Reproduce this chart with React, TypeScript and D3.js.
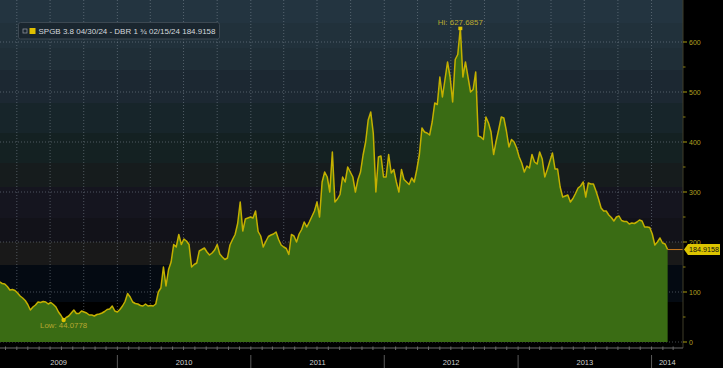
import React from 'react';
import * as d3 from 'd3';

// weekly closes (Fridays) starting 13 Feb 2009, spread in bp
const startDate = new Date(2009, 1, 13);
const spread = [
  120, 117, 116, 111, 104, 105, 103, 98, 92, 88,
  83, 75, 64, 70, 74, 80, 79, 81, 80, 76,
  79, 75, 70, 60, 53, 44.0778, 49, 52, 58, 64,
  57, 57, 62, 60, 58, 54, 54, 52, 55, 56,
  58, 61, 65, 66, 72, 62, 60, 65, 72, 81,
  97, 90, 80, 77, 76, 73, 72, 76, 72, 73,
  72, 76, 100, 108, 150, 112, 145, 160, 195, 190,
  215, 195, 206, 202, 195, 150, 155, 158, 182, 185,
  188, 180, 174, 178, 184, 195, 176, 170, 165, 168,
  194, 205, 215, 237, 280, 222, 246, 248, 250, 248,
  262, 221, 212, 190, 201, 211, 214, 216, 220, 205,
  194, 190, 187, 175, 215, 212, 200, 216, 225, 240,
  230, 240, 251, 262, 280, 250, 320, 340, 330, 300,
  380, 280, 286, 295, 330, 320, 350, 340, 330, 300,
  325, 340, 374, 400, 444, 460, 417, 300, 370, 372,
  330, 330, 375, 338, 345, 320, 300, 345, 325, 320,
  315, 328, 320, 345, 375, 428, 420, 418, 414, 440,
  478, 475, 530, 490, 525, 560, 530, 480, 565, 575,
  627.6857, 530, 560, 530, 500, 505, 540, 412, 410, 405,
  450, 438, 420, 375, 402, 425, 450, 448, 422, 390,
  405, 400, 388, 370, 358, 340, 352, 348, 375, 360,
  356, 380, 366, 330, 345, 362, 378, 346, 346, 310,
  290, 292, 294, 280, 287, 297, 308, 312, 320, 290,
  318, 316, 316, 302, 286, 268, 262, 262, 254, 249,
  242, 250, 252, 243, 241, 241, 236, 238, 237, 240,
  244, 242, 230, 230, 229, 216, 194, 200, 208, 198,
  196, 184.9158,
];
const yTicks = [0, 100, 200, 300, 400, 500, 600];
const legendLabel = 'SPGB 3.8 04/30/24 - DBR 1 \u00BE 02/15/24 184.9158';

const W = 723;
const H = 368;
const plotRight = 683;

// stepped background like the terminal chart
const bands: [number, number, string][] = [
  [0, 23, '#233440'],
  [23, 48, '#21313b'],
  [48, 70, '#1f2e37'],
  [70, 103, '#1c2832'],
  [103, 133, '#17252a'],
  [133, 163, '#142122'],
  [163, 187, '#161c1d'],
  [187, 218, '#15151f'],
  [218, 242, '#121219'],
  [242, 265, '#191919'],
  [265, 302, '#040a12'],
  [302, 348, '#000000'],
];

const font = 'Liberation Sans, Arial, sans-serif';

export default function App() {
  const dates = spread.map((_, i) => d3.timeWeek.offset(startDate, i));
  const pts = dates.map((d, i) => ({ date: d, v: spread[i] }));

  const x = d3.scaleTime()
    .domain([new Date(2009, 1, 14), new Date(2014, 2, 28)])
    .range([0, plotRight]);
  const y = d3.scaleLinear().domain([0, 600]).range([342, 42]);

  const area = d3.area<any>().x(d => x(d.date)).y0(y(0)).y1(d => y(d.v));
  const line = d3.line<any>().x(d => x(d.date)).y(d => y(d.v));

  const hi = pts[d3.maxIndex(spread)];
  const lo = pts[d3.minIndex(spread)];
  const last = pts[pts.length - 1];

  const [d0, d1] = x.domain();
  const quarters = d3.timeMonth.every(3)!.range(d0, d1);
  const months = d3.timeMonth.range(d0, d1);
  const years = d3.timeYear.range(d0, d1);
  const yearEdges = [d0, ...years, d1];
  const yearLabels = yearEdges.slice(0, -1).map((d, i) => ({
    label: String(d.getFullYear()),
    cx: (x(d) + x(yearEdges[i + 1])) / 2,
  }));
  const minorY = d3.range(50, 650, 100);

  const ly = y(last.v);

  return (
    <svg width={W} height={H} style={{ position: 'absolute', left: 0, top: 0, background: '#000' }}>
      {bands.map(([a, b, c]) => (
        <rect key={a} x={0} y={a} width={plotRight} height={b - a} fill={c} />
      ))}

      {/* gridlines */}
      {quarters.map(d => (
        <line key={+d} x1={x(d)} x2={x(d)} y1={0} y2={342}
          stroke="#8a96a0" strokeOpacity={0.5} strokeDasharray="1 2" />
      ))}
      {yTicks.map(t => (
        <line key={t} x1={0} x2={plotRight} y1={y(t)} y2={y(t)}
          stroke="#8a96a0" strokeOpacity={0.5} strokeDasharray="1 2" />
      ))}

      {/* series */}
      <path d={area(pts)!} fill="#3a6c14" />
      <path d={line(pts)!} fill="none" stroke="#c4b000" strokeWidth={1.5} strokeLinejoin="round" />

      {/* last value line */}
      <line x1={x(last.date)} x2={plotRight} y1={ly} y2={ly} stroke="#c8781e" strokeWidth={1} />

      {/* hi / low markers */}
      <rect x={x(hi.date) - 2} y={y(hi.v) - 1.5} width={4} height={3.5} fill="#e0c400" />
      <text x={x(hi.date)} y={y(hi.v) - 3} textAnchor="middle" fontSize={7.5} fontFamily={font}
        fill="#b8a830" textLength={45} lengthAdjust="spacingAndGlyphs">
        {'Hi: ' + hi.v.toFixed(4)}
      </text>
      <circle cx={x(lo.date)} cy={y(lo.v)} r={2.2} fill="#e0c400" />
      <text x={x(lo.date)} y={y(lo.v) + 8.5} textAnchor="middle" fontSize={7.5} fontFamily={font}
        fill="#b8a830" textLength={47} lengthAdjust="spacingAndGlyphs">
        {'Low: ' + lo.v.toFixed(4)}
      </text>

      {/* right axis */}
      <line x1={plotRight} x2={plotRight} y1={0} y2={348} stroke="#3e3d28" />
      {yTicks.map(t => (
        <g key={t}>
          <line x1={plotRight} x2={plotRight + 4} y1={y(t)} y2={y(t)} stroke="#a89a10" />
          <text x={plotRight + 6} y={y(t) + 2.5} fontSize={7} fontFamily={font} fill="#b0a020">{t}</text>
        </g>
      ))}
      {minorY.map(t => (
        <line key={t} x1={plotRight} x2={plotRight + 2.5} y1={y(t)} y2={y(t)} stroke="#8a7e10" />
      ))}

      {/* last value callout */}
      <polygon
        points={`${plotRight + 1},${ly} ${plotRight + 5},${ly - 5.5} ${W - 3},${ly - 5.5} ${W - 3},${ly + 5.5} ${plotRight + 5},${ly + 5.5}`}
        fill="#dcc400" />
      <text x={(plotRight + 5 + W - 3) / 2} y={ly + 2.5} textAnchor="middle" fontSize={7} fontFamily={font}
        fill="#111" textLength={30} lengthAdjust="spacingAndGlyphs">
        {last.v.toFixed(4)}
      </text>

      {/* bottom axis */}
      <line x1={0} x2={plotRight} y1={348} y2={348} stroke="#6a6a6a" />
      {months.map(d => (
        <line key={+d} x1={x(d)} x2={x(d)} y1={346.5} y2={350} stroke="#6a6a6a" />
      ))}
      {years.map(d => (
        <line key={+d} x1={x(d)} x2={x(d)} y1={355} y2={368} stroke="#5a5a5a" />
      ))}
      {yearLabels.map(l => (
        <text key={l.label} x={l.cx} y={365} textAnchor="middle" fontSize={7.5} fontFamily={font} fill="#d0d0d0">
          {l.label}
        </text>
      ))}

      {/* legend */}
      <rect x={18.5} y={22.5} width={201} height={16.5} rx={2} fill="#1a262f" stroke="#3c4852" />
      <rect x={23} y={29} width={4} height={4} fill="none" stroke="#8a9098" strokeWidth={0.8} />
      <rect x={29.5} y={28} width={6} height={6} fill="#e0c000" />
      <text x={38.5} y={34} fontSize={7.2} fontFamily={font} fill="#d4d8dc"
        textLength={177} lengthAdjust="spacingAndGlyphs">
        {legendLabel}
      </text>
    </svg>
  );
}
